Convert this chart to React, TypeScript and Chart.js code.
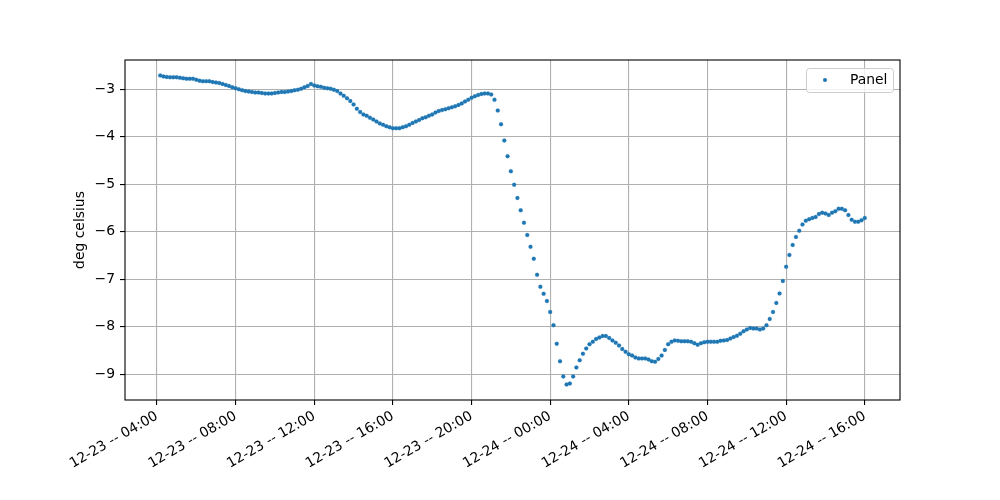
import React, { useEffect, useRef } from "react";
import { Chart, registerables } from "chart.js";

Chart.register(...registerables);

// Sampling: every 10 minutes starting 12-23 04:10 (hours since 12-23 00:00)
const START_HOUR = 4 + 10 / 60;
const STEP_HOUR = 10 / 60;

const panelTemps: number[] = [
  -2.71, -2.73, -2.74, -2.75, -2.75, -2.75, -2.76, -2.77, -2.78, -2.78,
  -2.78, -2.8, -2.82, -2.83, -2.83, -2.83, -2.85, -2.86, -2.87, -2.89,
  -2.91, -2.93, -2.96, -2.98, -3.0, -3.02, -3.04, -3.05, -3.06, -3.07,
  -3.07, -3.08, -3.09, -3.09, -3.09, -3.08, -3.07, -3.06, -3.06, -3.05,
  -3.04, -3.02, -3.01, -2.99, -2.96, -2.93, -2.89, -2.92, -2.94, -2.95,
  -2.97, -2.98, -2.99, -3.01, -3.04, -3.09, -3.14, -3.19, -3.25, -3.32,
  -3.41, -3.48, -3.53, -3.56, -3.6, -3.64, -3.68, -3.72, -3.75, -3.78,
  -3.8, -3.82, -3.82, -3.82, -3.8, -3.78, -3.75, -3.71, -3.68, -3.65,
  -3.61, -3.59, -3.56, -3.53, -3.49, -3.46, -3.44, -3.42, -3.4, -3.38,
  -3.36, -3.33, -3.3, -3.26, -3.22, -3.18, -3.15, -3.12, -3.1, -3.09,
  -3.09, -3.11, -3.22, -3.45, -3.74, -4.08, -4.41, -4.73, -5.01, -5.29,
  -5.55, -5.81, -6.07, -6.32, -6.57, -6.91, -7.16, -7.31, -7.46, -7.69,
  -7.97, -8.36, -8.73, -9.05, -9.22, -9.2, -9.05, -8.86, -8.71, -8.57,
  -8.46, -8.37, -8.32, -8.26, -8.23, -8.2, -8.2, -8.24, -8.29, -8.34,
  -8.4, -8.47, -8.53, -8.58, -8.61, -8.65, -8.67, -8.67, -8.67, -8.69,
  -8.73, -8.74, -8.68, -8.61, -8.49, -8.37, -8.32, -8.29, -8.3, -8.31,
  -8.31, -8.31, -8.32, -8.35, -8.38, -8.35, -8.33, -8.32, -8.32, -8.32,
  -8.32, -8.3, -8.29, -8.28, -8.25, -8.22, -8.19, -8.15, -8.1, -8.06,
  -8.03, -8.04, -8.04, -8.06, -8.04, -7.97, -7.84, -7.69, -7.5, -7.3,
  -7.04, -6.74, -6.49, -6.28, -6.11, -5.98, -5.85, -5.77, -5.74, -5.71,
  -5.69, -5.63, -5.6, -5.62, -5.65, -5.6, -5.57, -5.52, -5.52, -5.55,
  -5.65, -5.75, -5.79, -5.79, -5.76, -5.71,
];

const xTickHours: number[] = [4, 8, 12, 16, 20, 24, 28, 32, 36, 40];
const yTickValues: number[] = [-9, -8, -7, -6, -5, -4, -3];
const seriesLabel = "Panel";
const yAxisTitle = "deg celsius";

const FONT = "'DejaVu Sans', sans-serif";
const FONT_SIZE = 13.9;
const BLUE = "#1f77b4";

function fmtTime(h: number): string {
  const day = 23 + Math.floor(h / 24);
  const hr = Math.round(h - Math.floor(h / 24) * 24);
  return `12-${day} -- ${String(hr).padStart(2, "0")}:00`;
}

export default function App() {
  const ref = useRef<HTMLCanvasElement | null>(null);

  useEffect(() => {
    if (!ref.current) return;
    const points = panelTemps.map((v, i) => ({ x: START_HOUR + i * STEP_HOUR, y: v }));
    const xs = points.map((p) => p.x);
    const xMinD = Math.min(...xs);
    const xMaxD = Math.max(...xs);
    const yMinD = Math.min(...panelTemps);
    const yMaxD = Math.max(...panelTemps);
    const xm = (xMaxD - xMinD) * 0.05;
    const ym = (yMaxD - yMinD) * 0.05;

    const framePlugin = {
      id: "frameAndLegend",
      afterDraw(chart: any) {
        const { ctx, chartArea } = chart;
        ctx.save();
        ctx.strokeStyle = "#000";
        ctx.lineWidth = 1.1;
        ctx.strokeRect(
          chartArea.left,
          chartArea.top,
          chartArea.right - chartArea.left,
          chartArea.bottom - chartArea.top
        );
        // legend
        const lx = 806.5, ly = 68.5, lw = 87, lh = 24, r = 3;
        ctx.beginPath();
        ctx.moveTo(lx + r, ly);
        ctx.lineTo(lx + lw - r, ly);
        ctx.quadraticCurveTo(lx + lw, ly, lx + lw, ly + r);
        ctx.lineTo(lx + lw, ly + lh - r);
        ctx.quadraticCurveTo(lx + lw, ly + lh, lx + lw - r, ly + lh);
        ctx.lineTo(lx + r, ly + lh);
        ctx.quadraticCurveTo(lx, ly + lh, lx, ly + lh - r);
        ctx.lineTo(lx, ly + r);
        ctx.quadraticCurveTo(lx, ly, lx + r, ly);
        ctx.closePath();
        ctx.fillStyle = "rgba(255,255,255,0.8)";
        ctx.fill();
        ctx.strokeStyle = "#cccccc";
        ctx.lineWidth = 1;
        ctx.stroke();
        ctx.beginPath();
        ctx.arc(825, 80, 2, 0, Math.PI * 2);
        ctx.fillStyle = BLUE;
        ctx.fill();
        ctx.fillStyle = "#000";
        ctx.font = `${FONT_SIZE}px ${FONT}`;
        ctx.textBaseline = "middle";
        ctx.textAlign = "left";
        ctx.fillText(seriesLabel, 850, 80.5);
        ctx.restore();
      },
    };

    const chart = new Chart(ref.current, {
      type: "scatter",
      data: {
        datasets: [
          {
            label: seriesLabel,
            data: points,
            backgroundColor: BLUE,
            borderColor: "rgba(31,119,180,0.4)",
            borderWidth: 0.5,
            pointRadius: 2,
          },
        ],
      },
      options: {
        animation: false,
        responsive: false,
        devicePixelRatio: 1,
        layout: { padding: { left: 0, right: 100, top: 60, bottom: 0 } },
        plugins: { legend: { display: false }, tooltip: { enabled: false } },
        scales: {
          x: {
            type: "linear",
            min: xMinD - xm,
            max: xMaxD + xm,
            afterBuildTicks: (scale: any) => {
              scale.ticks = xTickHours.map((v) => ({ value: v }));
            },
            afterFit: (scale: any) => {
              scale.height = 100;
            },
            grid: {
              color: "#b0b0b0",
              lineWidth: 1.1,
              tickColor: "#000",
              tickLength: 5,
              drawTicks: true,
            },
            border: { display: false },
            ticks: {
              color: "#000",
              font: { family: FONT, size: FONT_SIZE },
              padding: 3,
              minRotation: 30,
              maxRotation: 30,
              autoSkip: false,
              callback: (v: any) => fmtTime(Number(v)),
            },
          },
          y: {
            type: "linear",
            min: yMinD - ym,
            max: yMaxD + ym,
            afterBuildTicks: (scale: any) => {
              scale.ticks = yTickValues.map((v) => ({ value: v }));
            },
            afterFit: (scale: any) => {
              scale.width = 125;
            },
            grid: {
              color: "#b0b0b0",
              lineWidth: 1.1,
              tickColor: "#000",
              tickLength: 5,
            },
            border: { display: false },
            ticks: {
              color: "#000",
              font: { family: FONT, size: FONT_SIZE },
              padding: 5,
              callback: (v: any) => String(v).replace("-", "\u2212"),
            },
            title: {
              display: true,
              text: yAxisTitle,
              color: "#000",
              font: { family: FONT, size: FONT_SIZE },
              padding: { top: 72, bottom: 0 },
            },
          },
        },
      },
      plugins: [framePlugin],
    } as any);
    return () => chart.destroy();
  }, []);

  return (
    <div style={{ position: "absolute", left: 0, top: 0, width: 1000, height: 500, background: "#fff" }}>
      <canvas ref={ref} width={1000} height={500} style={{ width: 1000, height: 500 }} />
    </div>
  );
}
